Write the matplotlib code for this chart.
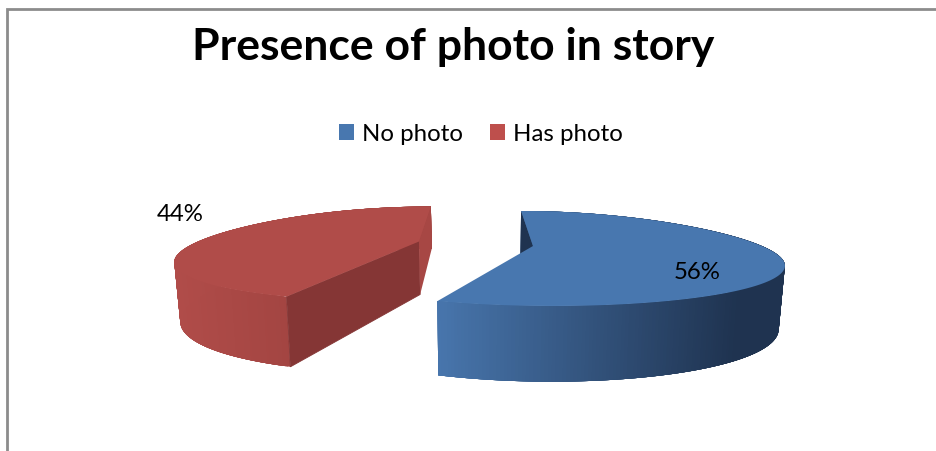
import numpy as np
import matplotlib
matplotlib.use("Agg")
import matplotlib.pyplot as plt
from matplotlib.collections import PolyCollection
from matplotlib.colors import LinearSegmentedColormap
from matplotlib.patches import Polygon, Patch

title = "Presence of photo in story"
categories = ["No photo", "Has photo"]
shares = [56, 44]
share_labels = ["56%", "44%"]

# fake 3d camera, everything in pixels
van_x = 476
rad_x = 235
rad_y = 44.2
persp = 0.263
rad_y_low = 58
shrink_low = 0.98
side_sag = 5
side_push = 4
# x offset from van_x, y of the tip, wall height
explode = [(57, 247, 57), (-57, 242.5, 53)]


def project(phi, tip, low=False):
    X = np.cos(phi)
    Y = np.sin(phi)
    s = 1 / (1 + persp * Y)
    dx, ty, h = tip
    xp = (dx + rad_x * X) * s + side_push * X ** 2
    if low:
        return van_x + xp * shrink_low, ty + h + (rad_y_low * -Y * s + side_sag * 1.4 * X ** 2)
    return van_x + xp, ty + rad_y * -Y * s + side_sag * X ** 2


def tip_point(tip, low=False):
    dx, ty, h = tip
    if low:
        return van_x + dx * shrink_low, ty + h
    return van_x + dx, ty


def outer_wall(ax, tx, ty, bx, by, x0, x1, c0, c1, z):
    # overlapping quads so no seams show, colour follows x
    cmap = LinearSegmentedColormap.from_list("g", [c0, c1])
    quads = []
    cols = []
    n = len(tx)
    for i in range(n - 1):
        j = min(i + 6, n - 1)
        quads.append([(tx[i], ty[i]), (tx[j], ty[j]), (bx[j], by[j]), (bx[i], by[i])])
        cols.append(cmap(np.clip((tx[i] - x0) / (x1 - x0), 0, 1)))
    ax.add_collection(PolyCollection(quads, facecolors=cols, edgecolors="none", zorder=z))


fig = plt.figure(figsize=(9.36, 4.52), dpi=100)
ax = fig.add_axes([0, 0, 1, 1])
ax.axis("off")

# slice angles, clockwise from 12 o'clock
sweep = [v / sum(shares) * 2 * np.pi for v in shares]
blue_phi = np.linspace(np.pi / 2, np.pi / 2 - sweep[0], 300)
red_phi = np.linspace(np.pi / 2 - sweep[0], np.pi / 2 - sweep[0] - sweep[1], 300)
blue_tip = explode[0]
red_tip = explode[1]

# blue slice
tx, ty = project(blue_phi, blue_tip)
bx, by = project(blue_phi, blue_tip, low=True)
outer_wall(ax, tx, ty, bx, by, 436, 740, "#4876ad", "#1f3350", 2)
back = [(tx[0], ty[0]), tip_point(blue_tip), tip_point(blue_tip, True), (bx[0], by[0])]
ax.add_patch(Polygon(back, closed=True, facecolor="#1f3350", edgecolor="none", zorder=2.5))
top = np.vstack([tip_point(blue_tip), np.column_stack([tx, ty])])
ax.add_patch(Polygon(top, closed=True, facecolor="#4877af", edgecolor="none", zorder=3))

# red slice
tx, ty = project(red_phi, red_tip)
bx, by = project(red_phi, red_tip, low=True)
outer_wall(ax, tx, ty, bx, by, 175, 290, "#b04c49", "#a34542", 2)
t_top = tip_point(red_tip)
t_low = tip_point(red_tip, True)
cut1 = [(tx[0], ty[0]), t_top, t_low, (bx[0], by[0])]
ax.add_patch(Polygon(cut1, closed=True, facecolor="#853635", edgecolor="#853635", lw=0.6, zorder=4))
cut2 = [(tx[-1], ty[-1]), t_top, t_low, (bx[-1], by[-1])]
ax.add_patch(Polygon(cut2, closed=True, facecolor="#a74744", edgecolor="none", zorder=4))
top = np.vstack([t_top, np.column_stack([tx, ty])])
ax.add_patch(Polygon(top, closed=True, facecolor="#b04c49", edgecolor="none", zorder=5))

# frame of the chart
ax.plot([6.5, 6.5, 936], [452, 10, 10], color="#8c8c8c", lw=2.0, solid_joinstyle="miter", zorder=6)

ax.text(453, 47, title, fontsize=32, fontweight="bold", family="Lato", ha="center", va="center", color="black")
ax.text(697, 273, share_labels[0], fontsize=17.3, family="Lato", ha="center", va="center", color="black", zorder=7)
ax.text(180, 215, share_labels[1], fontsize=17.3, family="Lato", ha="center", va="center", color="black", zorder=7)

handles = [Patch(facecolor="#4877af", label=categories[0]), Patch(facecolor="#be4f4c", label=categories[1])]
ax.legend(handles=handles, ncol=2, loc="center", bbox_to_anchor=(481 / 936, 1 - 135 / 452), frameon=False,
          prop={"family": "Lato", "size": 17.3}, handlelength=0.62, handleheight=0.62, handletextpad=0.35,
          columnspacing=1.1, borderpad=0)

ax.set_xlim(0, 936)
ax.set_ylim(452, 0)
fig.savefig("out.png", dpi=100)
